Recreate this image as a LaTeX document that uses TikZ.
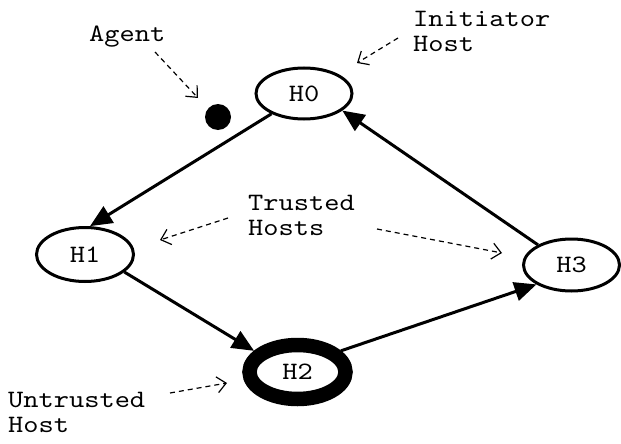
\documentclass[tikz,border=0pt]{standalone}
\usepackage{fontspec}
\newfontfamily\cour{lmmono10-regular.otf}[FakeStretch=1.16]
\usetikzlibrary{arrows.meta,shapes.geometric}
\begin{document}
\begin{tikzpicture}[x=1pt,y=-1pt,
  txt/.style={font=\cour\fontsize{25}{25}\selectfont},
  host/.style={ellipse,draw,line width=3pt,inner sep=0pt,minimum width=97pt,minimum height=54pt,txt},
  flow/.style={line width=3pt,-{Triangle[length=22pt,width=19pt]}},
  note/.style={line width=1.2pt,dash pattern=on 5pt off 4pt,-{Straight Barb[length=9pt,width=16pt,line width=1.2pt]}},
  lbl/.style={inner sep=0pt,align=left,anchor=base west,txt}]
\useasboundingbox (0,0) rectangle (621,444);
\node[host,minimum width=96pt,minimum height=51pt] (H0) at (304,93.5) {H0};
\node[host] (H1) at (85,254.5) {H1};
\node[host,line width=14.5pt,minimum width=96pt,minimum height=54pt] (H2) at (297.5,372) {H2};
\node[host,minimum width=96pt,minimum height=52pt] (H3) at (571.5,265) {H3};
\node[circle,fill,inner sep=0pt,minimum size=26pt] (agentdot) at (218,117) {};

\draw[flow] (H0.212) -- (H1.80);
\draw[flow] (H1.336) -- (H2.154);
\draw[flow] (H2.26) -- (H3.209);
\draw[flow] (H3.149) -- (H0.336);

\node[lbl] (agent) at (89,42) {Agent};
\node[lbl] (init) at (413,52) {Initiator\\Host};
\node[lbl] (trusted) at (248,235) {Trusted\\Hosts};
\node[lbl] (untrusted) at (8,432) {Untrusted\\Host};

\coordinate (a1) at (155,52); \coordinate (a2) at (198,98);
\coordinate (i1) at (398,38); \coordinate (i2) at (357,63);
\coordinate (t1) at (228,218); \coordinate (t2) at (160,240);
\coordinate (t3) at (377,229); \coordinate (t4) at (502,253);
\coordinate (u1) at (170,393); \coordinate (u2) at (227,383);
\draw[note] (a1) -- (a2);
\draw[note] (i1) -- (i2);
\draw[note] (t1) -- (t2);
\draw[note] (t3) -- (t4);
\draw[note] (u1) -- (u2);
\end{tikzpicture}
\end{document}
